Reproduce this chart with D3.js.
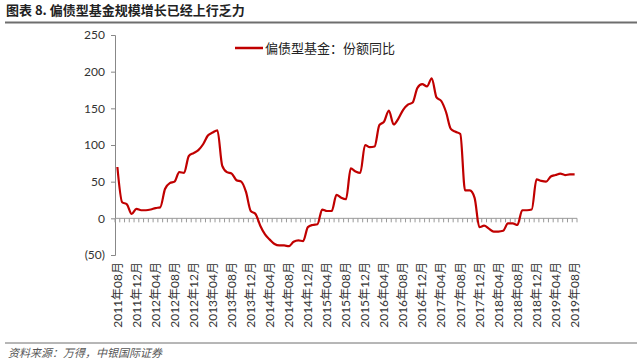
<!DOCTYPE html>
<html>
<head>
<meta charset="utf-8">
<script src="https://cdn.jsdelivr.net/npm/d3@7"></script>
<style>
  body { margin: 0; background: #fff; }
</style>
</head>
<body>
<div id="container"></div>
<script>
const title = '图表 8. 偏债型基金规模增长已经上行乏力';
const source = '资料来源：万得，中银国际证券';
const seriesName = '偏债型基金：份额同比';

// monthly, 2011-08 .. 2019-08
const months = [];
for (let i = 0; i < 97; i++) {
    const m = (7 + i) % 12 + 1, y = 2011 + Math.floor((7 + i) / 12);
    months.push(y + '年' + String(m).padStart(2, '0') + '月');
}

const values = [
    70, 22, 19, 6, 13, 11, 11, 12, 14, 15, 40, 48,
    50, 63, 62, 85, 89, 93, 101, 113, 117, 120, 72, 63,
    61, 52, 50, 36, 10, 6, -10, -22, -29, -35, -37, -37,
    -38, -32, -30, -31, -12, -9, -8, 12, 10, 10, 32, 28,
    26, 68, 64, 62, 100, 97, 98, 127, 132, 147, 128, 136,
    148, 155, 158, 178, 183, 180, 191, 165, 160, 145, 122, 118,
    115, 38, 38, 28, -12, -10, -14, -18, -18, -17, -7, -7,
    -9, 11, 11, 12, 53, 51, 50, 57, 59, 61, 59, 60,
    60
];

const tickLabels = [
    '2011年08月', '2011年12月', '2012年04月', '2012年08月', '2012年12月',
    '2013年04月', '2013年08月', '2013年12月', '2014年04月', '2014年08月',
    '2014年12月', '2015年04月', '2015年08月', '2015年12月', '2016年04月',
    '2016年08月', '2016年12月', '2017年04月', '2017年08月', '2017年12月',
    '2018年04月', '2018年08月', '2018年12月', '2019年04月', '2019年08月'
];
const yTicks = [-50, 0, 50, 100, 150, 200, 250];

const W = 640, H = 363;
const cjk = "'Noto Sans CJK SC', sans-serif";
const num = "Lato, 'Noto Sans CJK SC', sans-serif";

const svg = d3.select('#container')
    .append('svg')
    .attr('width', W)
    .attr('height', H);

// title + rules
svg.append('text')
    .attr('x', 6)
    .attr('y', 15)
    .attr('font-family', cjk)
    .attr('font-weight', 'bold')
    .attr('font-size', 13)
    .attr('fill', '#222')
    .text(title);

svg.append('line')
    .attr('x1', 5).attr('x2', 637)
    .attr('y1', 22.5).attr('y2', 22.5)
    .attr('stroke', '#6e6e6e')
    .attr('stroke-width', 2);

svg.append('line')
    .attr('x1', 5).attr('x2', 637)
    .attr('y1', 343).attr('y2', 343)
    .attr('stroke', '#6e6e6e')
    .attr('stroke-width', 1);

svg.append('text')
    .attr('x', 8)
    .attr('y', 357)
    .attr('font-family', cjk)
    .attr('font-style', 'italic')
    .attr('font-size', 11)
    .attr('fill', '#555')
    .text(source);

// scales
const x = d3.scaleBand()
    .domain(months)
    .range([115, 577]);

const y = d3.scaleLinear()
    .domain([-50, 250])
    .range([255, 35]);

const g = svg.append('g');

// y axis
const yAxis = g.append('g')
    .attr('transform', 'translate(115,0)')
    .call(d3.axisLeft(y)
        .tickValues(yTicks)
        .tickSize(4)
        .tickFormat(d => d < 0 ? '(' + (-d) + ')' : d));
yAxis.select('.domain').attr('stroke', '#888');
yAxis.selectAll('.tick line').attr('stroke', '#888');
yAxis.selectAll('.tick text')
    .attr('font-family', num)
    .attr('font-size', 12)
    .attr('fill', '#333')
    .attr('x', -10);

// x axis on zero line, a tick between every month
const x0 = y(0);
g.append('line')
    .attr('x1', x.range()[0]).attr('x2', x.range()[1])
    .attr('y1', x0).attr('y2', x0)
    .attr('stroke', '#999');

g.append('g')
    .selectAll('line')
    .data(months.concat(['end']))
    .enter()
    .append('line')
    .attr('x1', (d, i) => x.range()[0] + i * x.step())
    .attr('x2', (d, i) => x.range()[0] + i * x.step())
    .attr('y1', x0)
    .attr('y2', x0 + 4)
    .attr('stroke', '#999');

g.append('g')
    .selectAll('text')
    .data(tickLabels)
    .enter()
    .append('text')
    .attr('transform', d => `translate(${x(d) + x.bandwidth() / 2},262) rotate(-90)`)
    .attr('dy', '0.35em')
    .attr('text-anchor', 'end')
    .attr('font-family', num)
    .attr('font-size', 12)
    .attr('fill', '#333')
    .text(d => d);

// series
const line = d3.line()
    .x((d, i) => x(months[i]) + x.bandwidth() / 2)
    .y(d => y(d))
    .curve(d3.curveMonotoneX);

g.append('path')
    .datum(values)
    .attr('d', line)
    .attr('fill', 'none')
    .attr('stroke', '#c00000')
    .attr('stroke-width', 2.2)
    .attr('stroke-linejoin', 'round');

// legend
const lg = svg.append('g').attr('transform', 'translate(235,48)');
lg.append('line')
    .attr('x1', 0).attr('x2', 28)
    .attr('stroke', '#c00000')
    .attr('stroke-width', 2.5);
lg.append('text')
    .attr('x', 30)
    .attr('dy', '0.35em')
    .attr('font-family', cjk)
    .attr('font-size', 13)
    .attr('fill', '#222')
    .text(seriesName);
</script>
</body>
</html>
